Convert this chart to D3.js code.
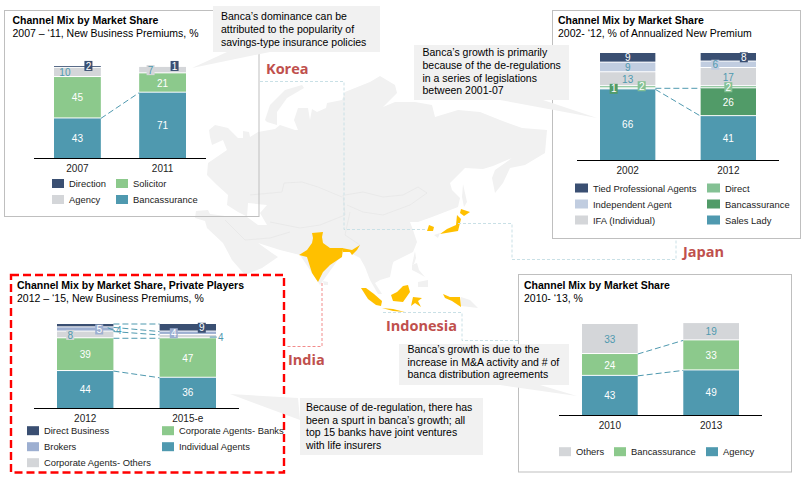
<!DOCTYPE html>
<html>
<head>
<meta charset="utf-8">
<script src="https://cdn.jsdelivr.net/npm/d3@7"></script>
<style>
html, body { margin: 0; padding: 0; background: #fff; }
svg { display: block; }
text { font-family: "Liberation Sans", Arial, sans-serif; }
</style>
</head>
<body>
<svg id="chart" width="806" height="485"></svg>
<script>
// Korea
var koreaYears = ['2007', '2011'];
var koreaChannels = ['Bancassurance', 'Solicitor', 'Agency', 'Direction'];
var koreaBanca = [43, 71];
var koreaSolicitor = [45, 21];
var koreaAgency = [10, 7];
var koreaDirection = [2, 1];

// Japan
var japanYears = ['2002', '2012'];
var japanChannels = ['Sales Lady', 'Bancassurance', 'Direct', 'IFA (Individual)', 'Independent Agent', 'Tied Professional Agents'];
var japanSalesLady = [66, 41];
var japanBanca = [1, 26];
var japanDirect = [2, 2];
var japanIfa = [13, 17];
var japanIndependent = [9, 6];
var japanTied = [9, 8];

// India
var indiaYears = ['2012', '2015-e'];
var indiaChannels = ['Individual Agents', 'Corporate Agents- Banks', 'Corporate Agents- Others', 'Brokers', 'Direct Business'];
var indiaIndividual = [44, 36];
var indiaBanks = [39, 47];
var indiaOthers = [8, 4];
var indiaBrokers = [5, 4];
var indiaDirect = [4, 9];

// Indonesia
var indonesiaYears = ['2010', '2013'];
var indonesiaChannels = ['Agency', 'Bancassurance', 'Others'];
var indonesiaAgency = [43, 49];
var indonesiaBanca = [24, 33];
var indonesiaOthers = [33, 19];

var navy = '#3a4f72', teal = '#4f99af', green = '#8cc98c', grey = '#d4d6d9';
var red = '#c0504d', gold = '#ffc000', land = '#f1f1f1';
var svg = d3.select('#chart');

// map outlines, traced by hand
var mapLand = [
  [[209,130],[215,125],[228,128],[238,138],[243,138],[243,131],[249,132],[250,137],[258,132],[275,129],[280,125],[295,130],[298,130],[294,120],[298,108],[308,108],[310,120],[312,109],[317,112],[326,108],[327,103],[342,100],[345,92],[370,82],[380,76],[395,85],[397,93],[383,107],[395,102],[415,102],[432,105],[435,117],[458,110],[480,112],[500,120],[522,128],[547,130],[545,153],[525,165],[510,168],[503,183],[495,193],[492,178],[495,170],[512,158],[493,166],[483,169],[465,168],[450,183],[452,190],[460,198],[458,207],[445,212],[432,217],[418,222],[410,222],[413,230],[417,242],[413,252],[393,262],[390,277],[380,280],[375,283],[382,294],[378,294],[370,280],[365,267],[360,258],[345,250],[320,285],[300,255],[280,250],[258,243],[272,253],[278,257],[262,268],[245,275],[232,260],[223,243],[207,228],[205,221],[195,218],[196,211],[208,210],[210,214],[225,216],[246,216],[238,212],[227,205],[228,195],[217,185],[207,175],[208,163],[227,150],[223,140],[212,145],[210,137]],
  [[265,120],[270,105],[285,90],[302,85],[304,88],[287,98],[277,112],[277,125],[267,122]],
  [[463,184],[465,193],[467,202],[464,207],[462,197]],
  [[434,235],[440,233],[438,238]],
  [[323,281],[328,282],[328,285],[324,285]],
  [[412,265],[415,251],[416,258],[414,264]],
  [[412,265],[417,263],[419,270],[425,277],[418,273],[412,270]],
  [[418,282],[428,280],[428,287],[418,287]],
  [[461,297],[470,300],[478,308],[461,306]],
  [[388,260],[393,262],[392,264]],
  [[390,263],[394,261],[392,265]]
];
var mapSeas = [[[248,203],[267,205],[260,213],[267,225],[258,225],[247,217]]];
var mapGold = [
  [[312,233],[323,232],[322,237],[323,243],[330,248],[343,248],[342,257],[330,265],[323,272],[318,282],[312,273],[307,257],[299,255],[307,250],[312,243],[313,238]],
  [[342,248],[352,250],[360,245],[357,250],[352,255],[350,252],[343,252]],
  [[461,209],[470,212],[464,216],[460,213]],
  [[457,215],[461,219],[458,231],[440,234],[447,229],[456,225]],
  [[429,225],[434,227],[433,231],[427,231]],
  [[361,288],[366,288],[374,294],[382,301],[381,306],[376,305],[368,299]],
  [[382,308],[393,309],[405,312],[393,311]],
  [[408,285],[410,292],[403,302],[393,301],[391,295],[397,292],[403,286]],
  [[422,298],[413,297],[411,306],[415,303],[421,307],[418,301]],
  [[443,294],[450,297],[460,297],[461,307],[452,301],[445,298]]
];
var mapBorders = [
  [[345,195],[363,192],[383,197],[403,195],[418,187],[427,193],[410,205],[383,215],[363,212],[347,205]],
  [[250,195],[282,192],[284,183],[302,182],[318,187],[342,197]],
  [[343,195],[345,215],[320,225],[300,228],[270,222]],
  [[350,212],[345,235],[360,245]],
  [[225,220],[245,240],[270,238],[290,232]]
];
var closedPath = d3.line().curve(d3.curveLinearClosed);
var openPath = d3.line();

var mapG = svg.append('g');
mapG.selectAll('.land').data(mapLand).join('path').attr('class', 'land').attr('d', function (d) { return closedPath(d); }).attr('fill', land);
mapG.selectAll('.sea').data(mapSeas).join('path').attr('class', 'sea').attr('d', function (d) { return closedPath(d); }).attr('fill', '#fff');
mapG.selectAll('.border').data(mapBorders).join('path').attr('class', 'border').attr('d', function (d) { return openPath(d); })
  .attr('fill', 'none').attr('stroke', '#e7e7e7').attr('stroke-width', 0.8);
mapG.selectAll('.gold').data(mapGold).join('path').attr('class', 'gold').attr('d', function (d) { return closedPath(d); }).attr('fill', gold);

// dashed leaders from countries to their panels
function leader(pts, color) {
  svg.append('path').attr('d', openPath(pts)).attr('fill', 'none')
    .attr('stroke', color).attr('stroke-width', 1).attr('stroke-dasharray', '3 2');
}
leader([[260,81.5],[344,81.5],[344,229.5],[427,229.5]], '#c9e0e6');
leader([[458,223.5],[512,223.5],[512,259.5],[676,259.5],[676,238]], '#c9e0e6');
leader([[383,312.5],[462,312.5],[462,340.5],[518,340.5]], '#c9e0e6');
leader([[322,283],[322,346.5],[287,346.5]], '#f28b8b');

function countryLabel(name, x, y) {
  svg.append('text').text(name).attr('x', x).attr('y', y)
    .style('font-family', '"Open Sans", sans-serif').style('font-size', '14.5px')
    .style('font-weight', 700).attr('fill', red);
}
countryLabel('Korea', 266, 74);
countryLabel('Japan', 683, 257);
countryLabel('Indonesia', 386, 331);
countryLabel('India', 288, 365);

function callout(rect, tail, lines, textX, baselines) {
  svg.append('path').attr('d', closedPath(tail)).attr('fill', land);
  svg.append('rect').attr('x', rect[0]).attr('y', rect[1])
    .attr('width', rect[2] - rect[0]).attr('height', rect[3] - rect[1]).attr('fill', land);
  lines.forEach(function (line, i) {
    svg.append('text').text(line).attr('x', textX).attr('y', baselines[i])
      .style('font-size', '10.5px').attr('fill', '#000');
  });
}

function stackChart(cfg) {
  var g = svg.append('g');
  var box = g.append('rect').attr('x', cfg.box[0]).attr('y', cfg.box[1])
    .attr('width', cfg.box[2] - cfg.box[0]).attr('height', cfg.box[3] - cfg.box[1])
    .attr('fill', 'none');
  if (cfg.highlight) {
    box.attr('stroke', '#ff0000').attr('stroke-width', 2.4).attr('stroke-dasharray', '8 4');
  } else {
    box.attr('stroke', '#bfbfbf').attr('stroke-width', 1);
  }

  g.append('text').text(cfg.title).attr('x', cfg.titleX).attr('y', cfg.titleY)
    .style('font-size', '10.5px').style('font-weight', 700).attr('fill', '#000');
  g.append('text').text(cfg.subtitle).attr('x', cfg.titleX).attr('y', cfg.titleY + 13)
    .style('font-size', '10.5px').attr('fill', '#000');

  var x = d3.scaleBand().domain(cfg.years).range(cfg.barRange).paddingInner(cfg.inner);
  var y = d3.scaleLinear().domain([0, 100]).range(cfg.yRange);

  // one row per year so d3.stack can use it
  var rows = cfg.years.map(function (year, i) {
    var row = { year: year };
    cfg.channels.forEach(function (c, j) { row[c] = cfg.series[j][i]; });
    return row;
  });
  var layers = d3.stack().keys(cfg.channels)(rows);

  // teal dashed lines between the bars
  cfg.links.forEach(function (k) {
    var layer = layers[k];
    g.append('line')
      .attr('x1', x(cfg.years[0]) + x.bandwidth()).attr('y1', y(layer[0][1]))
      .attr('x2', x(cfg.years[1])).attr('y2', y(layer[1][1]))
      .attr('stroke', teal).attr('stroke-width', 1).attr('stroke-dasharray', '6 3');
  });

  layers.forEach(function (layer, k) {
    g.selectAll('.seg' + k).data(layer).join('rect')
      .attr('class', 'seg' + k)
      .attr('x', function (d) { return x(d.data.year); })
      .attr('width', x.bandwidth())
      .attr('y', function (d) { return y(d[1]); })
      .attr('height', function (d) { return Math.max(y(d[0]) - y(d[1]) - (k > 0 ? 1 : 0), 0); })
      .attr('fill', cfg.colors[k]);
  });

  // value labels, small segments get a little box in the segment colour
  layers.forEach(function (layer, k) {
    layer.forEach(function (d, i) {
      var value = d[1] - d[0];
      var key = i + '-' + k;
      var shift = (cfg.labelShift && cfg.labelShift[key]) || [0, 0];
      var cx = x(cfg.years[i]) + x.bandwidth() / 2 + shift[0];
      var cy = (y(d[0]) + y(d[1])) / 2 + shift[1];
      var small = y(d[0]) - y(d[1]) < 9;
      var outside = cfg.outside && cfg.outside.indexOf(key) >= 0;
      if (outside) {
        g.append('line').attr('x1', cx - 11).attr('x2', cx - 4)
          .attr('y1', cy - (i === 0 ? 3 : 0)).attr('y2', cy)
          .attr('stroke', teal).attr('stroke-width', 1);
      } else if (small) {
        g.append('rect').attr('x', cx - 4).attr('y', cy - 5).attr('width', 8).attr('height', 10)
          .attr('fill', cfg.colors[k]);
      }
      var dark = outside || cfg.tealText.indexOf(k) >= 0;
      g.append('text').text(value).attr('x', cx).attr('y', cy + 3.6)
        .attr('text-anchor', 'middle').style('font-size', '10px')
        .attr('fill', dark ? teal : '#fff');
    });
  });

  var axis = d3.axisBottom(x).tickSize(0).tickPadding(7);
  var axisG = g.append('g').attr('transform', 'translate(0,' + cfg.yRange[0] + ')').call(axis);
  axisG.select('.domain').remove();
  axisG.selectAll('text').style('font-size', '10px').style('font-family', '"Liberation Sans", Arial, sans-serif').attr('fill', '#222');
  g.append('line').attr('x1', cfg.axisX[0]).attr('x2', cfg.axisX[1])
    .attr('y1', cfg.yRange[0] + 0.5).attr('y2', cfg.yRange[0] + 0.5)
    .attr('stroke', '#000').attr('stroke-width', 1);

  cfg.legend.forEach(function (item) {
    var k = cfg.channels.indexOf(item[0]);
    g.append('rect').attr('x', item[1]).attr('y', item[2] - 4.5)
      .attr('width', cfg.swatch).attr('height', 9).attr('fill', cfg.colors[k]);
    g.append('text').text(item[0]).attr('x', item[1] + cfg.swatch + 5).attr('y', item[2] + 3.5)
      .style('font-size', '9.4px').attr('fill', '#222');
  });
}

stackChart({
  box: [4.5, 10.5, 259, 216.5], titleX: 12.5, titleY: 24,
  title: 'Channel Mix by Market Share', subtitle: '2007 \u2013 \u201811, New Business Premiums, %',
  years: koreaYears, channels: koreaChannels,
  series: [koreaBanca, koreaSolicitor, koreaAgency, koreaDirection],
  colors: [teal, green, grey, navy], tealText: [2],
  barRange: [54, 186], inner: 0.45, yRange: [158, 66], axisX: [34, 206], swatch: 12,
  links: [0],
  labelShift: { '0-2': [-12.5, 0], '0-3': [11, -1], '1-2': [-12, 0], '1-3': [12, -0.5] },
  legend: [['Direction', 52, 183.5], ['Solicitor', 116, 183.5], ['Agency', 52, 199.5], ['Bancassurance', 116, 199.5]]
});

stackChart({
  box: [552.5, 10.5, 800.5, 238.5], titleX: 558, titleY: 24,
  title: 'Channel Mix by Market Share', subtitle: '2002- \u201812, % of Annualized New Premium',
  years: japanYears, channels: japanChannels,
  series: [japanSalesLady, japanBanca, japanDirect, japanIfa, japanIndependent, japanTied],
  colors: [teal, '#519b68', '#84c194', grey, '#c1cde0', navy], tealText: [3, 4],
  barRange: [600, 756], inner: 0.45, yRange: [160, 53], axisX: [577, 779], swatch: 13,
  links: [0, 1],
  labelShift: { '0-1': [-14, 0], '0-2': [14, -1], '1-4': [-13, 0], '1-5': [15.5, 0] },
  legend: [['Tied Professional Agents', 575, 188], ['Direct', 707, 188],
    ['Independent Agent', 575, 204], ['Bancassurance', 707, 204],
    ['IFA (Individual)', 575, 220], ['Sales Lady', 707, 220]]
});

stackChart({
  box: [11, 275, 284, 472.5], titleX: 17, titleY: 289, highlight: true,
  title: 'Channel Mix by Market Share, Private Players', subtitle: '2012 \u2013 \u201815,  New Business Premiums, %',
  years: indiaYears, channels: indiaChannels,
  series: [indiaIndividual, indiaBanks, indiaOthers, indiaBrokers, indiaDirect],
  colors: [teal, green, grey, '#9dafd1', navy], tealText: [2],
  barRange: [57, 216], inner: 0.45, yRange: [408, 324], axisX: [34, 239], swatch: 12,
  links: [0, 1, 2, 3, 4],
  outside: ['0-4', '1-2'],
  labelShift: { '0-2': [-15, 0], '0-3': [14, 0], '0-4': [33.5, 5], '1-2': [33, 0.5], '1-3': [-14, 0], '1-4': [14, 0] },
  legend: [['Direct Business', 27, 430.7], ['Corporate Agents- Banks', 162, 430.7],
    ['Brokers', 27, 446.7], ['Individual Agents', 162, 446.7], ['Corporate Agents- Others', 27, 462.7]]
});

stackChart({
  box: [518.5, 274.5, 791.5, 472], titleX: 524, titleY: 289,
  title: 'Channel Mix by Market Share', subtitle: '2010- \u201813, %',
  years: indonesiaYears, channels: indonesiaChannels,
  series: [indonesiaAgency, indonesiaBanca, indonesiaOthers],
  colors: [teal, green, grey], tealText: [2],
  barRange: [582, 739], inner: 0.45, yRange: [415, 324], axisX: [559, 762], swatch: 12,
  links: [0, 1],
  legend: [['Others', 559, 451.7], ['Bancassurance', 614, 451.7], ['Agency', 706, 451.7]]
});

callout([213, 6, 380, 52], [[227,52],[270,52],[192,68]],
  ['Banca\u2019s dominance can be', 'attributed to the popularity of', 'savings-type insurance policies'],
  221, [20, 33, 46]);
callout([414, 45, 569, 100], [[500,100],[543,100],[597,118]],
  ['Banca\u2019s growth is primarily', 'because of the de-regulations', 'in a series of legislations', 'between 2001-07'],
  422.5, [56, 69, 81.5, 94]);
callout([399, 344, 569, 385], [[500,385],[540,385],[577,396]],
  ['Banca\u2019s growth is due to the', 'increase in M&A activity and # of', 'banca distribution agreements'],
  407.5, [353, 366, 378]);
callout([300, 398, 483, 455], [[298,398],[300,420],[230,394]],
  ['Because of de-regulation, there has', 'been a spurt in banca\u2019s growth; all', 'top 15 banks have joint ventures', 'with life insurers'],
  306, [411, 424, 436, 449]);
</script>
</body>
</html>
